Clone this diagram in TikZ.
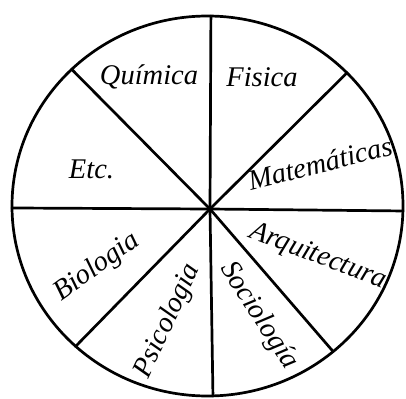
\documentclass[tikz,border=0pt]{standalone}
\usepackage{fontspec}
\setmainfont{Liberation Serif}
\usepackage{tikz}

\begin{document}
\begin{tikzpicture}[x=1pt, y=-1pt,
	rim/.style={line width=2.7pt},
	spoke/.style={line width=2.7pt, line cap=round},
	field/.style={font=\fontsize{28.5}{30}\selectfont\itshape, inner sep=0pt}]
			%%%%% START %%%%%
			
			\useasboundingbox (0, 0) rectangle (406, 398);
			\fill[white] (0, 0) rectangle (406, 398);
			
			\coordinate (ctr) at (207.5, 206);
			\coordinate (hub) at (210, 209);
			\draw[rim] (ctr) ellipse [x radius=195.5pt, y radius=190pt];
			
			\coordinate (top) at ([shift={(ctr)}] 89:195.5pt and 190pt);
			\coordinate (upright) at ([shift={(ctr)}] 44.5:195.5pt and 190pt);
			\coordinate (right) at ([shift={(ctr)}] -1.5:195.5pt and 190pt);
			\coordinate (lowright) at ([shift={(ctr)}] -50:195.5pt and 190pt);
			\coordinate (bottom) at ([shift={(ctr)}] -88.4:195.5pt and 190pt);
			\coordinate (lowleft) at ([shift={(ctr)}] -132.4:195.5pt and 190pt);
			\coordinate (left) at ([shift={(ctr)}] 180.6:195.5pt and 190pt);
			\coordinate (upleft) at ([shift={(ctr)}] 134:195.5pt and 190pt);
			
			\draw[spoke] (hub) -- (top);
			\draw[spoke] (hub) -- (upright);
			\draw[spoke] (hub) -- (right);
			\draw[spoke] (hub) -- (lowright);
			\draw[spoke] (hub) -- (bottom);
			\draw[spoke] (hub) -- (lowleft);
			\draw[spoke] (hub) -- (left);
			\draw[spoke] (hub) -- (upleft);
			
			\node[field, anchor=base] (quimica) at (149, 85) {Química};
			\node[field, anchor=base] (fisica) at (262, 87) {Fisica};
			\node[field, anchor=base] (etc) at (91.5, 178) {Etc.};
			\node[field, rotate=14] (matematicas) at (320, 163) {Matemáticas};
			\node[field, rotate=-21] (arquitectura) at (318, 257) {Arquitectura};
			\node[field, rotate=-57] (sociologia) at (259, 316) {Sociología};
			\node[field, rotate=65] (psicologia) at (168, 321) {Psicologia};
			\node[field, rotate=36] (biologia) at (97, 267) {Biologia};
			
			%%%%% END %%%%%
		\end{tikzpicture}
\end{document}
